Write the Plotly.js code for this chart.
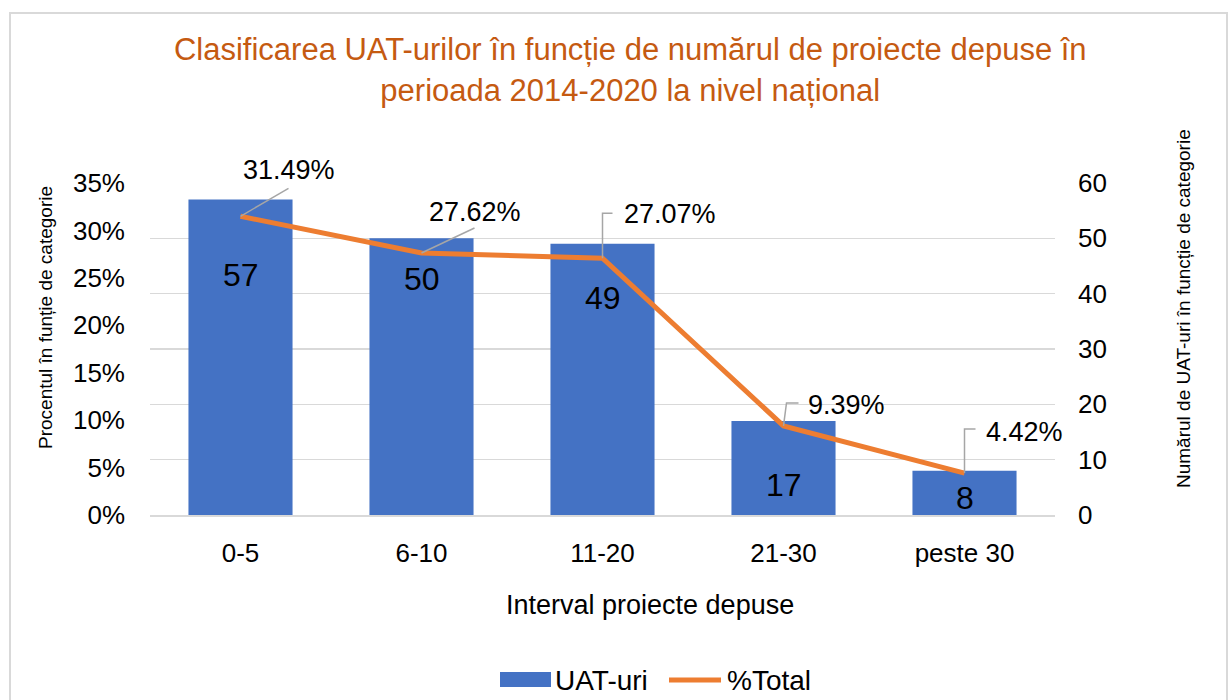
<!DOCTYPE html>
<html>
<head>
<meta charset="utf-8">
<script src="https://cdn.plot.ly/plotly-3.0.1.min.js"></script>
<style>
html,body{margin:0;padding:0;background:#fff;}
#wrap{position:relative;width:1231px;height:700px;overflow:hidden;}
#chart{width:1231px;height:700px;}
#frame{position:absolute;left:9px;top:12px;width:1219px;height:700px;border:2px solid #d9d9d9;box-sizing:border-box;pointer-events:none;}
</style>
</head>
<body>
<div id="wrap"><div id="chart"></div><div id="frame"></div></div>
<script>
// ---- data ----
const categories = ['0-5', '6-10', '11-20', '21-30', 'peste 30'];
const uatCounts = [57, 50, 49, 17, 8];
const percentTotal = [31.49, 27.62, 27.07, 9.39, 4.42];
const seriesNames = ['UAT-uri', '%Total'];
const titleText = 'Clasificarea UAT-urilor în funcție de numărul de proiecte depuse în<br>perioada 2014-2020 la nivel național';
const xTitle = 'Interval proiecte depuse';
const leftTitle = 'Procentul în funție de categorie';
const rightTitle = 'Numărul de UAT-uri în funcție de categorie';

// ---- styles / label placement ----
const FONT = 'Liberation Sans, Arial, sans-serif';
const BLUE = '#4472C4', ORANGE = '#ED7D31', GRID = '#d9d9d9', LEADER = '#A6A6A6';
const barLabelDrop = [75, 41, 54, 64, 27];
const pctLabelStyle = [
  {anchor:'center', dx:48, dy:46, path:'M0,0 L48,28'},
  {anchor:'center', dx:53, dy:41, path:'M0,0 L53,25'},
  {anchor:'left',   dx:19, dy:44, path:'M0,0 L0,45 L10,45'},
  {anchor:'left',   dx:22, dy:21, path:'M0,0 L3,23 L15,23'},
  {anchor:'left',   dx:19, dy:41, path:'M0,0 L0,44 L11,44'}
];

const traces = [
  {type:'bar', x:categories, y:uatCounts, name:seriesNames[0], yaxis:'y',
   marker:{color:BLUE}, width:0.575, hoverinfo:'x+y', showlegend:false},
  {type:'scatter', mode:'lines', x:categories, y:percentTotal, name:seriesNames[1], yaxis:'y2',
   line:{color:ORANGE, width:5}, hoverinfo:'x+y', showlegend:false}
];

const annotations = [];
const shapes = [];
categories.forEach((c,i)=>{
  annotations.push({x:c, y:uatCounts[i], xref:'x', yref:'y', text:String(uatCounts[i]),
    showarrow:false, yanchor:'middle', xanchor:'center', yshift:-barLabelDrop[i],
    font:{family:FONT, size:32, color:'#000'}});
  const s = pctLabelStyle[i];
  annotations.push({x:c, y:percentTotal[i], xref:'x', yref:'y2', text:percentTotal[i].toFixed(2)+'%',
    showarrow:false, xanchor:s.anchor, yanchor:'middle', xshift:s.dx, yshift:s.dy,
    font:{family:FONT, size:27, color:'#000'}});
  shapes.push({type:'path', xref:'x', yref:'y2', xsizemode:'pixel', ysizemode:'pixel',
    xanchor:c, yanchor:percentTotal[i], path:s.path, line:{color:LEADER, width:1.5}});
});

// axis titles
annotations.push({xref:'paper', yref:'paper', x:0, y:0.5, xshift:-105, yshift:31, textangle:-90,
  xanchor:'center', yanchor:'middle',
  text:leftTitle, showarrow:false, font:{family:FONT, size:19, color:'#000'}});
annotations.push({xref:'paper', yref:'paper', x:1, y:0.5, xshift:128, yshift:40, textangle:-90,
  xanchor:'center', yanchor:'middle',
  text:rightTitle, showarrow:false, font:{family:FONT, size:19, color:'#000'}});
annotations.push({xref:'paper', yref:'paper', x:0.5, y:0, xshift:47, yshift:-90, yanchor:'middle', xanchor:'center',
  text:xTitle, showarrow:false, font:{family:FONT, size:27, color:'#000'}});

// custom legend
shapes.push({type:'rect', xref:'paper', yref:'paper', xsizemode:'pixel', ysizemode:'pixel',
  xanchor:0, yanchor:0, x0:350, x1:401, y0:-172, y1:-157, fillcolor:BLUE, line:{width:0}});
shapes.push({type:'line', xref:'paper', yref:'paper', xsizemode:'pixel', ysizemode:'pixel',
  xanchor:0, yanchor:0, x0:519, x1:571, y0:-165, y1:-165, line:{color:ORANGE, width:5}});
annotations.push({xref:'paper', yref:'paper', x:0, y:0, xshift:403, yshift:-165, xanchor:'left', yanchor:'middle',
  text:seriesNames[0], showarrow:false, font:{family:FONT, size:28, color:'#000'}});
annotations.push({xref:'paper', yref:'paper', x:0, y:0, xshift:575, yshift:-165, xanchor:'left', yanchor:'middle',
  text:seriesNames[1], showarrow:false, font:{family:FONT, size:28, color:'#000'}});

const layout = {
  width:1231, height:700,
  margin:{l:150, r:176, t:183, b:185, autoexpand:false},
  paper_bgcolor:'#fff', plot_bgcolor:'#fff',
  showlegend:false,
  title:{text:titleText, xref:'container', yref:'container', x:0.512, y:0.914, automargin:false,
    xanchor:'center', yanchor:'middle', font:{family:FONT, size:31, color:'#C55A11'}},
  xaxis:{type:'category', range:[-0.5, categories.length-0.5], automargin:false, showgrid:false,
    showline:true, linecolor:GRID, linewidth:1.5,
    ticks:'', ticklabelstandoff:14, tickfont:{family:FONT, size:26, color:'#000'}, fixedrange:true},
  yaxis:{side:'right', automargin:false, range:[0,60], dtick:10, showgrid:true, gridcolor:GRID, gridwidth:1.5,
    zeroline:false, showline:false, ticks:'', ticklabelstandoff:22,
    tickfont:{family:FONT, size:26, color:'#000'}},
  yaxis2:{side:'left', automargin:false, overlaying:'y', range:[0,35], dtick:5, ticksuffix:'%', showgrid:false,
    zeroline:false, showline:false, ticks:'', ticklabelstandoff:24,
    tickfont:{family:FONT, size:26, color:'#000'}},
  bargap:0.425,
  annotations:annotations,
  shapes:shapes
};

Plotly.newPlot('chart', traces, layout, {displayModeBar:false, staticPlot:true});
</script>
</body>
</html>
